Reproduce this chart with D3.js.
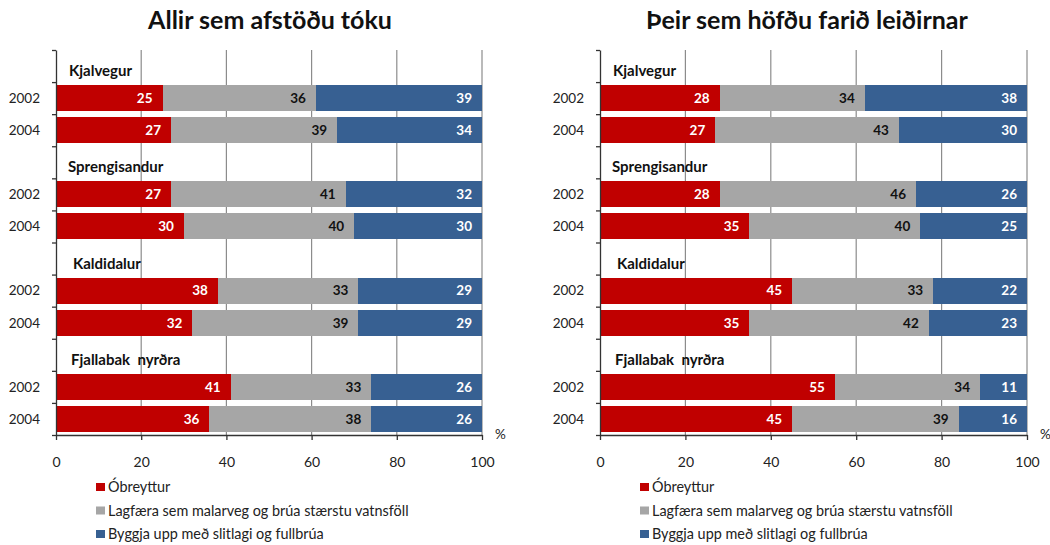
<!DOCTYPE html>
<html>
<head>
<meta charset="utf-8">
<script src="https://cdn.jsdelivr.net/npm/d3@7"></script>
<style>
  html, body { margin: 0; padding: 0; background: #fff; }
  svg { display: block; font-family: Lato, "Open Sans", sans-serif; }
</style>
</head>
<body>
<div id="chart"></div>
<script>
const routes = ['Kjalvegur', 'Sprengisandur', 'Kaldidalur', 'Fjallabak  nyrðra'];
const years = ['2002', '2004'];
const seriesNames = [
  'Óbreyttur',
  'Lagfæra sem malarveg og brúa stærstu vatnsföll',
  'Byggja upp með slitlagi og fullbrúa',
];
const xTicks = [0, 20, 40, 60, 80, 100];

// values in row order: route by route, 2002 then 2004
const allUnchanged = [25, 27, 27, 30, 38, 32, 41, 36];
const allGravel = [36, 39, 41, 40, 33, 39, 33, 38];
const allPaved = [39, 34, 32, 30, 29, 29, 26, 26];

const travelledUnchanged = [28, 27, 28, 35, 45, 35, 55, 45];
const travelledGravel = [34, 43, 46, 40, 33, 42, 34, 39];
const travelledPaved = [38, 30, 26, 25, 22, 23, 11, 16];

const colors = ['#c00000', '#a6a6a6', '#376092'];
const labelColors = ['#fff', '#111', '#fff'];

const WIDTH = 1050;
const HEIGHT = 545;
const TOP = 50;
const BOTTOM = 435;
const groupLabelNudge = [13, 12, 17, 15];

const svg = d3.create('svg').attr('width', WIDTH).attr('height', HEIGHT);

const rowKeys = [];
routes.forEach((route) => {
  rowKeys.push(route + '|label');
  years.forEach((year) => rowKeys.push(route + '|' + year));
});

const drawPanel = (title, titleX, left, right, stacks, legendX) => {
  const g = svg.append('g');

  const x = d3.scaleLinear().domain([0, 100]).range([left, right]);
  const y = d3.scaleBand().domain(rowKeys).range([TOP, BOTTOM]).paddingInner(0.19).paddingOuter(0.095);
  const yLine = d3.scaleLinear().domain([0, rowKeys.length]).range([TOP, BOTTOM]);

  g.append('text')
    .attr('x', titleX)
    .attr('y', 29)
    .attr('text-anchor', 'middle')
    .attr('font-size', 25)
    .attr('font-weight', 'bold')
    .attr('fill', '#111')
    .text(title);

  // vertical gridlines
  g.selectAll('.grid')
    .data(xTicks.slice(1))
    .join('line')
    .attr('x1', (d) => x(d))
    .attr('x2', (d) => x(d))
    .attr('y1', TOP)
    .attr('y2', BOTTOM)
    .attr('stroke', '#8c8c8c')
    .attr('stroke-width', 1.2);

  const rows = [];
  routes.forEach((route, ri) => {
    years.forEach((year, yi) => {
      const i = ri * years.length + yi;
      let start = 0;
      stacks.forEach((values, si) => {
        rows.push({ key: route + '|' + year, series: si, start, value: values[i] });
        start += values[i];
      });
    });
  });

  g.selectAll('.seg')
    .data(rows)
    .join('rect')
    .attr('x', (d) => x(d.start))
    .attr('y', (d) => y(d.key))
    .attr('width', (d) => x(d.start + d.value) - x(d.start))
    .attr('height', y.bandwidth())
    .attr('fill', (d) => colors[d.series])
    .attr('shape-rendering', 'crispEdges');

  g.selectAll('.val')
    .data(rows)
    .join('text')
    .attr('x', (d) => x(d.start + d.value) - 10)
    .attr('y', (d) => y(d.key) + y.bandwidth() / 2)
    .attr('dy', '0.36em')
    .attr('text-anchor', 'end')
    .attr('font-size', 13.5)
    .attr('font-weight', 'bold')
    .attr('fill', (d) => labelColors[d.series])
    .text((d) => d.value);

  // year labels
  g.selectAll('.year')
    .data(rowKeys.filter((k) => !k.endsWith('|label')))
    .join('text')
    .attr('x', left - 16)
    .attr('y', (d) => y(d) + y.bandwidth() / 2)
    .attr('dy', '0.36em')
    .attr('text-anchor', 'end')
    .attr('font-size', 13.5)
    .attr('fill', '#222')
    .text((d) => d.split('|')[1]);

  // route labels
  g.selectAll('.route')
    .data(routes)
    .join('text')
    .attr('x', (d, i) => left + groupLabelNudge[i])
    .attr('y', (d) => yLine(rowKeys.indexOf(d + '|label') + 1) - 6)
    .attr('font-size', 15)
    .attr('font-weight', 'bold')
    .attr('fill', '#111')
    .style('white-space', 'pre')
    .text((d) => d);

  // left axis with ticks at row boundaries
  const axisL = g.append('g')
    .attr('transform', `translate(${left},0)`)
    .call(d3.axisLeft(yLine).tickValues(d3.range(rowKeys.length + 1)).tickFormat('').tickSize(4).tickSizeOuter(0));
  axisL.selectAll('line, path').attr('stroke', '#333').attr('stroke-width', 1.3);

  const axisB = g.append('g')
    .attr('transform', `translate(0,${BOTTOM})`)
    .call(d3.axisBottom(x).tickValues(xTicks).tickSize(5).tickSizeOuter(0).tickPadding(17));
  axisB.selectAll('line, path').attr('stroke', '#333').attr('stroke-width', 1.3);
  axisB.selectAll('text')
    .attr('font-family', 'Lato, sans-serif')
    .attr('font-size', 14)
    .attr('fill', '#222');

  g.append('text')
    .attr('x', right + 13)
    .attr('y', BOTTOM + 4)
    .attr('font-size', 13.5)
    .attr('fill', '#222')
    .text('%');

  // legend
  const legend = g.append('g').attr('transform', `translate(${legendX},0)`);
  const ly = d3.scalePoint().domain(seriesNames).range([487, 534]);
  legend.selectAll('rect')
    .data(seriesNames)
    .join('rect')
    .attr('x', 0)
    .attr('y', (d) => ly(d) - 4)
    .attr('width', 9)
    .attr('height', 8)
    .attr('fill', (d, i) => colors[i]);
  legend.selectAll('text')
    .data(seriesNames)
    .join('text')
    .attr('x', 12)
    .attr('y', (d) => ly(d))
    .attr('dy', '0.36em')
    .attr('font-size', 14.4)
    .attr('fill', '#222')
    .text((d) => d);
};

drawPanel('Allir sem afstöðu tóku', 270, 56, 482,
  [allUnchanged, allGravel, allPaved], 96);
drawPanel('Þeir sem höfðu farið leiðirnar', 807, 600, 1027,
  [travelledUnchanged, travelledGravel, travelledPaved], 640);

document.getElementById('chart').appendChild(svg.node());
</script>
</body>
</html>
